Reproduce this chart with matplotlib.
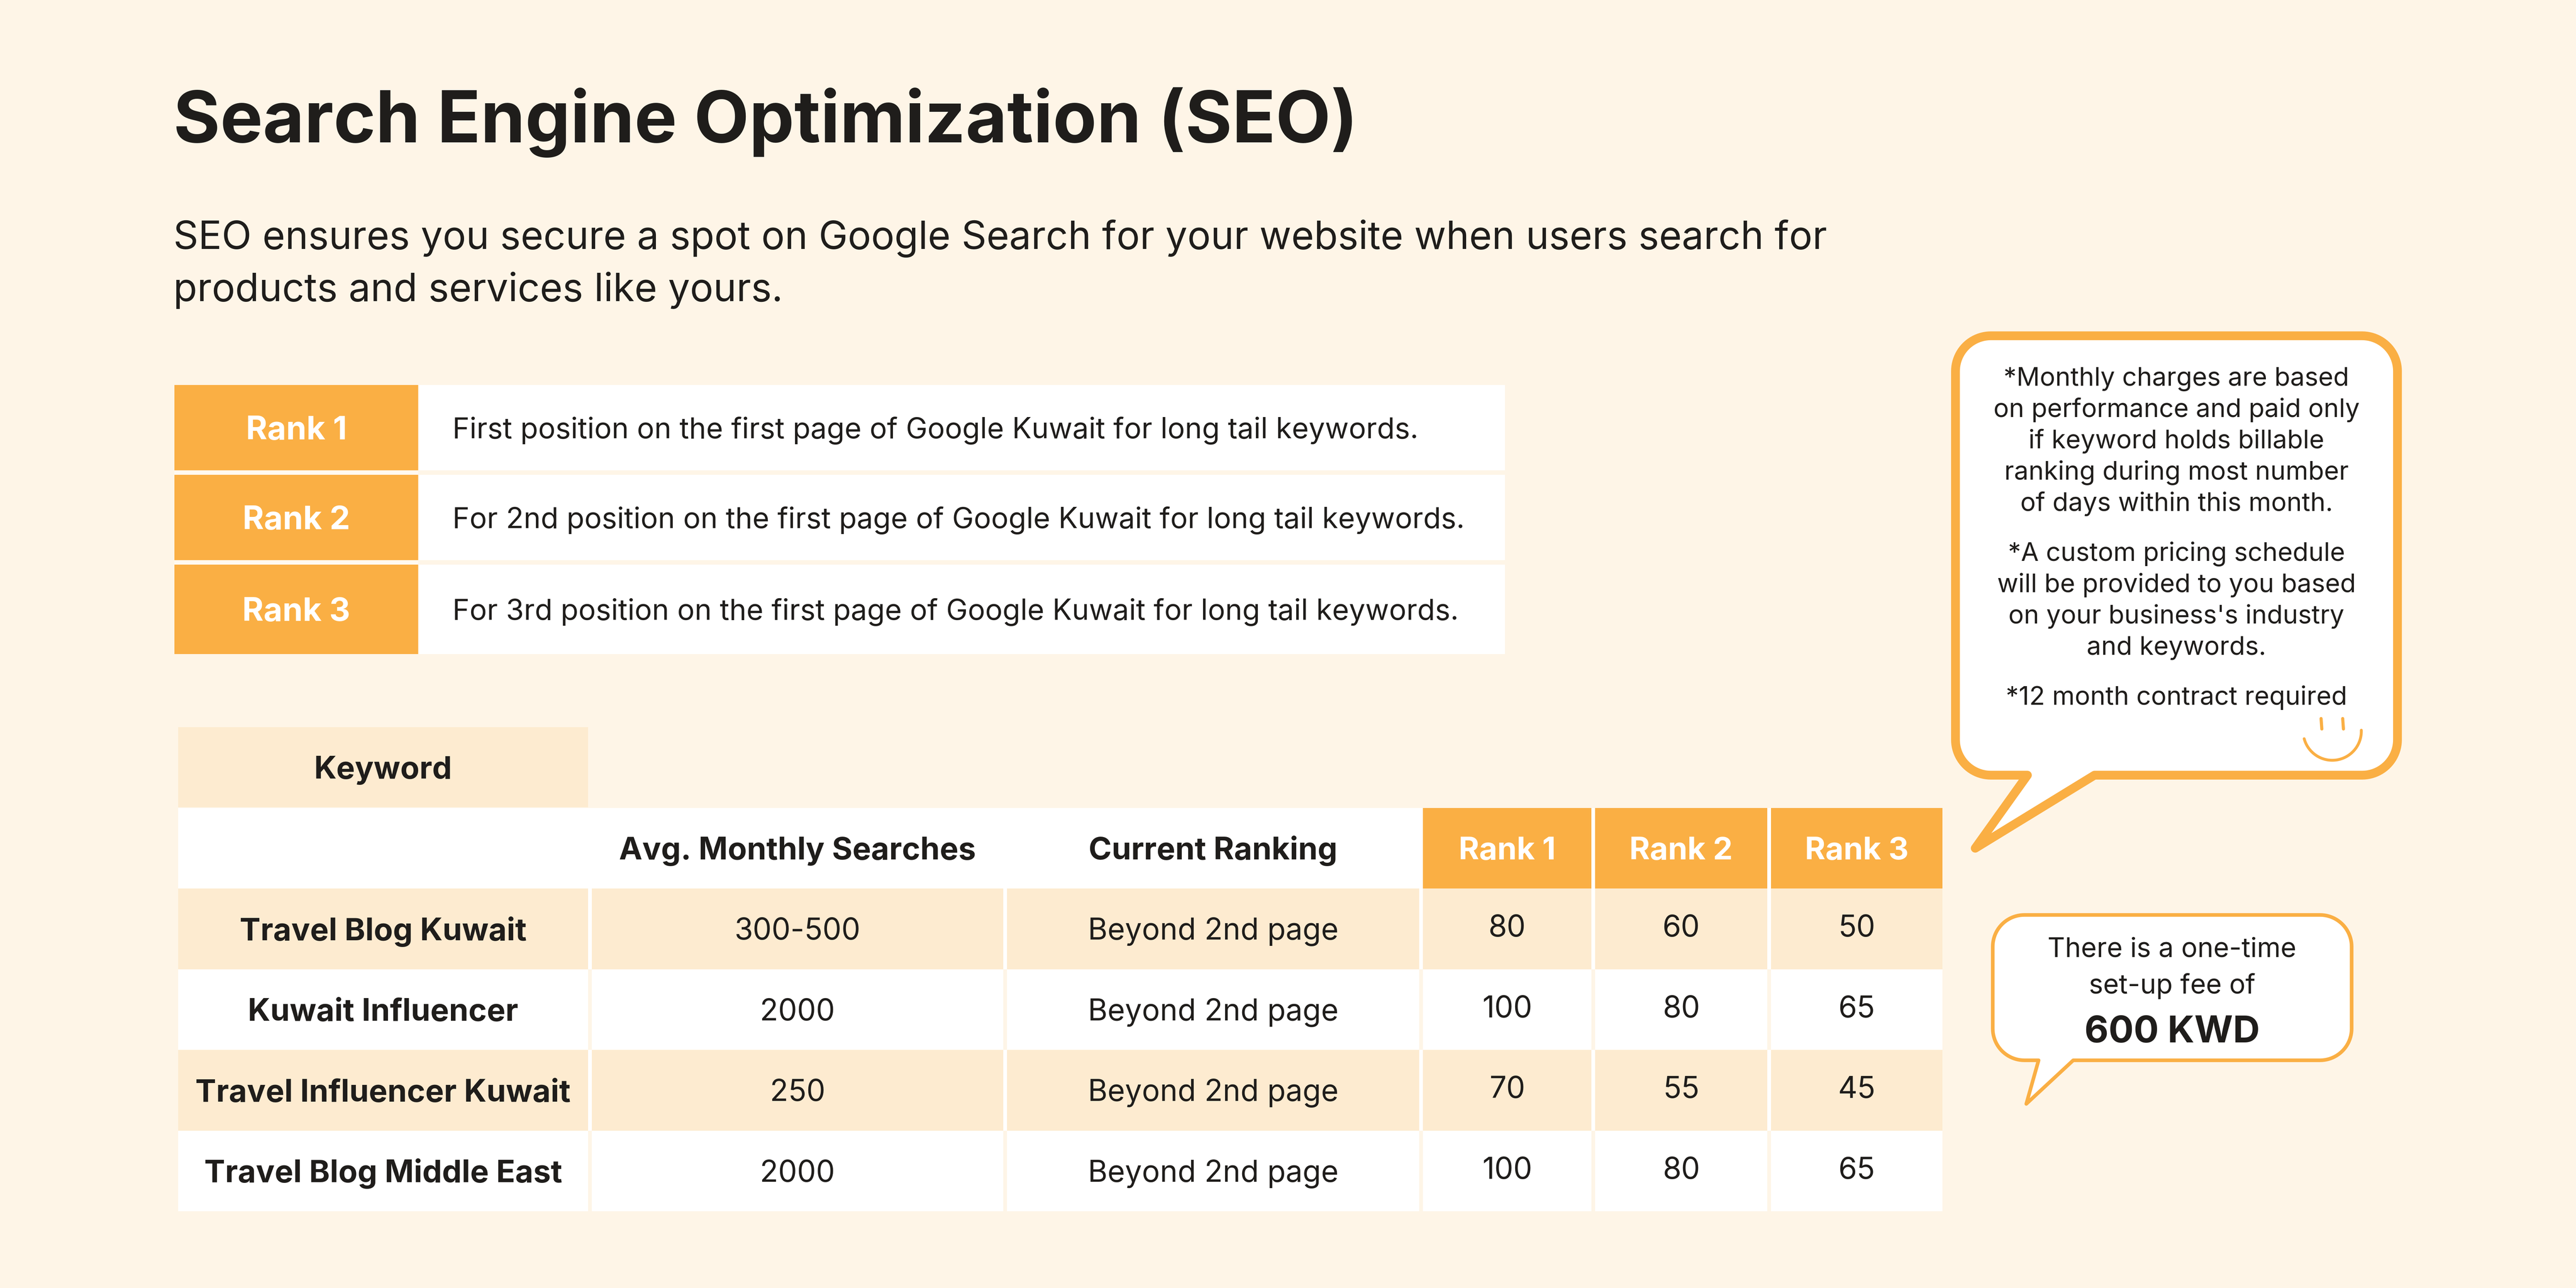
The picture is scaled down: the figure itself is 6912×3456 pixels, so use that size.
import matplotlib
matplotlib.use("Agg")
import matplotlib.pyplot as plt
from matplotlib.patches import Rectangle, Polygon
import numpy as np

# ---------------- data ----------------
title = "Search Engine Optimization (SEO)"
subtitle = ["SEO ensures you secure a spot on Google Search for your website when users search for",
            "products and services like yours."]
rank_labels = ["Rank 1", "Rank 2", "Rank 3"]
rank_desc = ["First position on the first page of Google Kuwait for long tail keywords.",
             "For 2nd position on the first page of Google Kuwait for long tail keywords.",
             "For 3rd position on the first page of Google Kuwait for long tail keywords."]
keyword_header = "Keyword"
col_headers = ["Avg. Monthly Searches", "Current Ranking", "Rank 1", "Rank 2", "Rank 3"]
keywords = ["Travel Blog Kuwait", "Kuwait Influencer", "Travel Influencer Kuwait", "Travel Blog Middle East"]
searches = ["300-500", "2000", "250", "2000"]
current_rank = ["Beyond 2nd page", "Beyond 2nd page", "Beyond 2nd page", "Beyond 2nd page"]
rank1_price = [80, 100, 70, 100]
rank2_price = [60, 80, 55, 80]
rank3_price = [50, 65, 45, 65]
note_paras = [["*Monthly charges are based", "on performance and paid only", "if keyword holds billable",
               "ranking during most number", "of days within this month."],
              ["*A custom pricing schedule", "will be provided to you based", "on your business's industry",
               "and keywords."],
              ["*12 month contract required"]]
fee_lines = ["There is a one-time", "set-up fee of"]
fee_value = "600 KWD"

# ---------------- style ----------------
BG = "#FEF5E7"
ORANGE = "#FAAF44"
BEIGE = "#FDEBD0"
WHITE = "#FFFFFF"
TXT = "#1F1D1B"
FONT = ["Inter", "DejaVu Sans"]

W, H = 6912, 3456
fig = plt.figure(figsize=(W / 100, H / 100), dpi=100, facecolor=BG)
ax = fig.add_axes([0, 0, 1, 1])
ax.set_xlim(0, W)
ax.set_ylim(H, 0)
ax.axis("off")
ax.set_facecolor(BG)
renderer = fig.canvas.get_renderer()


def fit_size(txt, target_w, weight="normal"):
    t = ax.text(0, 0, txt, fontsize=100, family=FONT, weight=weight)
    w = t.get_window_extent(renderer).width
    t.remove()
    return 100 * target_w / w


def put(x, y_center, txt, size, weight="normal", color=TXT, ha="center"):
    # place text with cap-height centered at y_center
    ax.text(x, y_center + size * 0.50, txt, fontsize=size, family=FONT, weight=weight,
            color=color, ha=ha, va="baseline")


def put_base(x, y_base, txt, size, weight="normal", color=TXT, ha="center"):
    ax.text(x, y_base, txt, fontsize=size, family=FONT, weight=weight,
            color=color, ha=ha, va="baseline")


# ---------------- title ----------------
s_title = fit_size(title, 3176, "bold")
put_base(465, 382, title, s_title, weight="bold", ha="left")
s_sub = fit_size(subtitle[0], 4437)
for i, line in enumerate(subtitle):
    put_base(465, 668 + i * 140, line, s_sub, ha="left")

# ---------------- rank description table ----------------
rk_x0, rk_x1, rk_x2 = 468, 1122, 4038
rk_rows = [(1033, 1262), (1274, 1503), (1515, 1755)]
s_rk_lab = fit_size(rank_labels[1], 288, "bold")
s_rk_desc = fit_size(rank_desc[1], 2714)
for (y0, y1), lab, desc in zip(rk_rows, rank_labels, rank_desc):
    ax.add_patch(Rectangle((rk_x0, y0), rk_x1 - rk_x0, y1 - y0, facecolor=ORANGE, edgecolor="none"))
    ax.add_patch(Rectangle((rk_x1 + 3, y0), rk_x2 - rk_x1 - 3, y1 - y0, facecolor=WHITE, edgecolor="none"))
    yc = (y0 + y1) / 2
    put((rk_x0 + rk_x1) / 2, yc, lab, s_rk_lab, weight="bold", color=WHITE)
    put(1214, yc, desc, s_rk_desc, ha="left")
for (a, b) in [(1262, 1274), (1503, 1515)]:
    ax.add_patch(Rectangle((rk_x0, a), rk_x1 - rk_x0, b - a, facecolor="#FFF9F0", edgecolor="none"))

# ---------------- main table ----------------
col_edges = [(478, 1578), (1588, 2692), (2702, 3808), (3818, 4270), (4280, 4742), (4752, 5212)]
kw_row = (1951, 2166)
hdr_row = (2168, 2384)
data_rows = [(2384, 2601), (2601, 2817), (2817, 3034), (3034, 3250)]
gap = 10

s_tab_bold = fit_size("Travel Influencer Kuwait", 1006, "bold")
s_tab = fit_size("Beyond 2nd page", 672)

# keyword header cell
ax.add_patch(Rectangle((col_edges[0][0], kw_row[0]), col_edges[0][1] - col_edges[0][0],
                       kw_row[1] - kw_row[0], facecolor=BEIGE, edgecolor="none"))
put(sum(col_edges[0]) / 2, sum(kw_row) / 2, keyword_header, s_tab_bold, weight="bold")

# header row
ax.add_patch(Rectangle((col_edges[0][0], hdr_row[0]), col_edges[-1][1] - col_edges[0][0],
                       hdr_row[1] - hdr_row[0], facecolor=WHITE, edgecolor="none"))
for j, (c0, c1) in enumerate(col_edges):
    fc = ORANGE if j >= 3 else WHITE
    ax.add_patch(Rectangle((c0, hdr_row[0]), c1 - c0, hdr_row[1] - hdr_row[0], facecolor=fc, edgecolor="none"))
    if j >= 1:
        col = WHITE if j >= 3 else TXT
        put((c0 + c1) / 2, sum(hdr_row) / 2, col_headers[j - 1], s_tab_bold, weight="bold", color=col)

# data rows
for i, (y0, y1) in enumerate(data_rows):
    fc = BEIGE if i % 2 == 0 else WHITE
    gapc = WHITE if i % 2 == 0 else BG
    ax.add_patch(Rectangle((col_edges[0][0], y0), col_edges[-1][1] - col_edges[0][0], y1 - y0,
                           facecolor=gapc, edgecolor="none"))
    vals = [keywords[i], searches[i], current_rank[i],
            str(rank1_price[i]), str(rank2_price[i]), str(rank3_price[i])]
    for j, (c0, c1) in enumerate(col_edges):
        ax.add_patch(Rectangle((c0, y0), c1 - c0, y1 - y0, facecolor=fc, edgecolor="none"))
        yc = (y0 + y1) / 2 - (8 if j >= 3 else 0)
        put((c0 + c1) / 2, yc, vals[j], s_tab_bold if j == 0 else s_tab,
            weight="bold" if j == 0 else "normal")


# ---------------- speech bubbles ----------------
def bubble_path(x0, y0, x1, y1, r, xa, xb, tipx, tipy, n=24):
    pts = []

    def arc(cx, cy, a0, a1):
        for t in np.linspace(np.radians(a0), np.radians(a1), n):
            pts.append((cx + r * np.cos(t), cy + r * np.sin(t)))

    # y axis is inverted: angle measured with y downward
    arc(x0 + r, y0 + r, 180, 270)   # top-left
    arc(x1 - r, y0 + r, 270, 360)   # top-right
    arc(x1 - r, y1 - r, 0, 90)      # bottom-right
    pts.append((xb, y1))
    pts.append((tipx, tipy))
    pts.append((xa, y1))
    arc(x0 + r, y1 - r, 90, 180)    # bottom-left
    return pts


b1 = bubble_path(5247, 901, 6433, 2080, 95, 5440, 5620, 5300, 2276)
ax.add_patch(Polygon(b1, closed=True, facecolor=WHITE, edgecolor=ORANGE, linewidth=17,
                     joinstyle="round", zorder=3))
b2 = bubble_path(5347, 2455, 6310, 2845, 85, 5470, 5563, 5437, 2962)
ax.add_patch(Polygon(b2, closed=True, facecolor=WHITE, edgecolor=ORANGE, linewidth=7,
                     joinstyle="round", zorder=3))

s_note = fit_size("on performance and paid only", 982)
bases = [[1035, 1119, 1203, 1287, 1371], [1505, 1589, 1673, 1757], [1891]]
for para, bl in zip(note_paras, bases):
    for line, yb in zip(para, bl):
        ax.text(5840, yb, line, fontsize=s_note, family=FONT, color=TXT, ha="center",
                va="baseline", zorder=4)

# smiley
for ex in (6228, 6286):
    ax.plot([ex, ex + 2], [1928, 1956], color=ORANGE, lw=6, solid_capstyle="round", zorder=4)
tt = np.radians(np.linspace(-2, 165, 60))
ax.plot(6258 + 78 * np.cos(tt), 1962 + 78 * np.sin(tt), color=ORANGE, lw=5.5,
        solid_capstyle="round", zorder=4)

s_fee = fit_size(fee_lines[0], 668)
for line, yb in zip(fee_lines, [2568, 2666]):
    ax.text(5828, yb, line, fontsize=s_fee, family=FONT, color=TXT, ha="center",
            va="baseline", zorder=4)
s_fee_big = fit_size(fee_value, 470, "bold")
ax.text(5828, 2797, fee_value, fontsize=s_fee_big, family=FONT, weight="bold", color=TXT,
        ha="center", va="baseline", zorder=4)

fig.savefig("out.png", dpi=100, facecolor=BG)
